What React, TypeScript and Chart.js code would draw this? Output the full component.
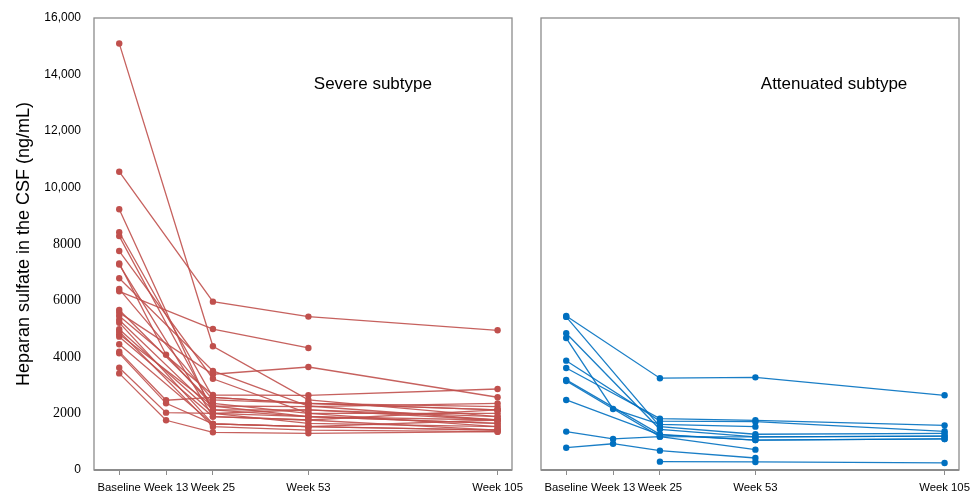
import React, { useEffect, useRef } from "react";
import { Chart, registerables } from "chart.js";

Chart.register(...registerables);

// ---- Data ----
const weekLabels = ["Baseline", "Week 13", "Week 25", "Week 53", "Week 105"];
const weekPositions = [0, 13, 26, 52.5, 105];

const yTickValues = [0, 2000, 4000, 6000, 8000, 10000, 12000, 14000, 16000];
const yTickLabels = ["0", "2000", "4000", "6000", "8000", "10,000", "12,000", "14,000", "16,000"];

const yAxisTitle = "Heparan sulfate in the CSF (ng/mL)";
const severeTitle = "Severe subtype";
const attenuatedTitle = "Attenuated subtype";

// Each row: [Baseline, Week 13, Week 25, Week 53, Week 105]
const severeSubjects: (number | null)[][] = [
  [15100, null, 4380, 2480, 1890],
  [10560, null, 5960, 5430, 4945],
  [9230, null, 2005, 2125, 1770],
  [8415, null, 2570, 2360, 2125],
  [8280, null, 2125, 1890, 1650],
  [7750, null, 3230, 2005, 1535],
  [7315, 4080, 2265, 2240, 2360],
  [7270, null, 1890, 1770, 1415],
  [6785, null, 3505, 2265, 1770],
  [6405, null, 2480, 2360, 2240],
  [6325, null, 4990, 4320, null],
  [5665, null, 2360, 2005, 2005],
  [5570, null, 3390, 3645, 2575],
  [5450, null, 2655, 2645, 2867],
  [5310, null, 2125, 2125, 1890],
  [5215, null, 1630, 1535, 1415],
  [4980, null, 2005, 1650, 1535],
  [4900, null, 1535, 1415, 1355],
  [4805, null, 2265, 1890, 1650],
  [4720, null, 1890, 1770, 2125],
  [4450, null, 1630, 1535, 1770],
  [4190, 2470, 2570, 2360, 2125],
  [4130, 2360, 1630, 1535, 1415],
  [3620, 2030, 2005, 1890, 1770],
  [3420, 1760, 1335, 1300, 1355],
];

const attenuatedSubjects: (number | null)[][] = [
  [5450, null, 3250, 3280, 2645],
  [5420, null, 1535, 1265, 1300],
  [4840, null, 1440, 1170, 1200],
  [4670, 2160, 1615, 1535, null],
  [3870, null, 1730, 1710, 1370],
  [3610, null, 1820, 1760, 1580],
  [3190, null, 1260, 1060, 1100],
  [3150, null, 1180, 1170, 1200],
  [2480, null, 1240, 1060, 1100],
  [1360, 1100, 1180, 720, null],
  [790, 930, 685, 425, null],
  [null, null, 295, 285, 250],
];

const SANS = '"Liberation Sans", Arial, Helvetica, sans-serif';
const SERIF = '"Liberation Serif", "Times New Roman", serif';
const FRAME = "#8c8c8c";

type PanelProps = {
  subjects: (number | null)[][];
  pointColor: string;
  lineColor: string;
  title: string;
  showY: boolean;
  left: number;
  width: number;
  padLeft: number;
  padRight: number;
};

function Panel(props: PanelProps) {
  const ref = useRef<HTMLCanvasElement | null>(null);

  useEffect(() => {
    if (!ref.current) return;
    const datasets = props.subjects.map((row, i) => ({
      label: "S" + (i + 1),
      data: row
        .map((v, j) => (v === null ? null : { x: weekPositions[j], y: v }))
        .filter((p) => p !== null) as { x: number; y: number }[],
      borderColor: props.lineColor,
      backgroundColor: props.pointColor,
      pointBackgroundColor: props.pointColor,
      pointBorderColor: props.pointColor,
      pointRadius: 3.2,
      pointBorderWidth: 0,
      borderWidth: 1.3,
      tension: 0,
      fill: false,
    }));

    const framePlugin = {
      id: "framePlugin",
      afterDraw(chart: any) {
        const { ctx, chartArea } = chart;
        ctx.save();
        ctx.strokeStyle = FRAME;
        ctx.lineWidth = 1.3;
        ctx.strokeRect(chartArea.left, chartArea.top, chartArea.right - chartArea.left, chartArea.bottom - chartArea.top);
        ctx.lineWidth = 2;
        ctx.beginPath();
        ctx.moveTo(chartArea.left, chartArea.bottom);
        ctx.lineTo(chartArea.right, chartArea.bottom);
        ctx.stroke();
        // panel title
        const xs = chart.scales.x;
        const ys = chart.scales.y;
        ctx.fillStyle = "#000";
        ctx.font = "17px " + SANS;
        ctx.textAlign = "left";
        ctx.textBaseline = "middle";
        ctx.fillText(props.title, xs.getPixelForValue(54), ys.getPixelForValue(13650));
        ctx.restore();
      },
    };

    const chart = new Chart(ref.current, {
      type: "line",
      data: { datasets },
      options: {
        animation: false,
        responsive: false,
        maintainAspectRatio: false,
        layout: { padding: { left: props.padLeft, right: props.padRight, top: 18, bottom: 0 } },
        plugins: { legend: { display: false }, tooltip: { enabled: false }, title: { display: false } },
        scales: {
          x: {
            type: "linear",
            min: -7,
            max: 109,
            afterBuildTicks: (scale: any) => {
              scale.ticks = weekPositions.map((v) => ({ value: v }));
            },
            afterFit: (scale: any) => {
              scale.height = 25;
              scale.paddingLeft = 0;
              scale.paddingRight = 0;
            },
            ticks: {
              autoSkip: false,
              maxRotation: 0,
              minRotation: 0,
              padding: 6,
              color: "#000",
              font: { family: SANS, size: 11.3 },
              callback: (value: any) => {
                const idx = weekPositions.indexOf(Number(value));
                return idx >= 0 ? weekLabels[idx] : "";
              },
            },
            grid: {
              display: true,
              drawOnChartArea: false,
              drawTicks: true,
              tickLength: 5,
              color: FRAME,
              lineWidth: 1,
            },
            border: { display: false },
          },
          y: {
            display: props.showY,
            min: 0,
            max: 16000,
            afterBuildTicks: (scale: any) => {
              scale.ticks = yTickValues.map((v) => ({ value: v }));
            },
            afterFit: (scale: any) => {
              if (props.showY) scale.width = 94;
              scale.paddingTop = 0;
              scale.paddingBottom = 0;
            },
            ticks: {
              padding: 13,
              color: "#000",
              font: (ctx: any) => {
                const v = ctx && ctx.tick ? ctx.tick.value : 0;
                return v >= 10000 || v === 0 ? { family: SANS, size: 12 } : { family: SERIF, size: 14 };
              },
              callback: (value: any) => {
                const idx = yTickValues.indexOf(Number(value));
                return idx >= 0 ? yTickLabels[idx] : "";
              },
            },
            grid: { display: false, drawTicks: false },
            border: { display: false },
            title: {
              display: props.showY,
              text: yAxisTitle,
              color: "#000",
              font: { family: SANS, size: 18 },
              padding: { top: 13, bottom: 0 },
            },
          },
        },
      } as any,
      plugins: [framePlugin],
    });
    return () => chart.destroy();
  }, []);

  return (
    <canvas
      ref={ref}
      width={props.width}
      height={495}
      style={{ position: "absolute", left: props.left, top: 0, width: props.width, height: 495 }}
    />
  );
}

export default function App() {
  return (
    <div style={{ position: "fixed", left: 0, top: 0, width: 976, height: 495, background: "#fff", overflow: "hidden" }}>
      <Panel
        subjects={severeSubjects}
        pointColor="#c0504d"
        lineColor="rgba(192,80,77,0.9)"
        title={severeTitle}
        showY={true}
        left={0}
        width={530}
        padLeft={0}
        padRight={18}
      />
      <Panel
        subjects={attenuatedSubjects}
        pointColor="#0070c0"
        lineColor="rgba(0,112,192,0.9)"
        title={attenuatedTitle}
        showY={false}
        left={520}
        width={456}
        padLeft={21}
        padRight={17}
      />
    </div>
  );
}
